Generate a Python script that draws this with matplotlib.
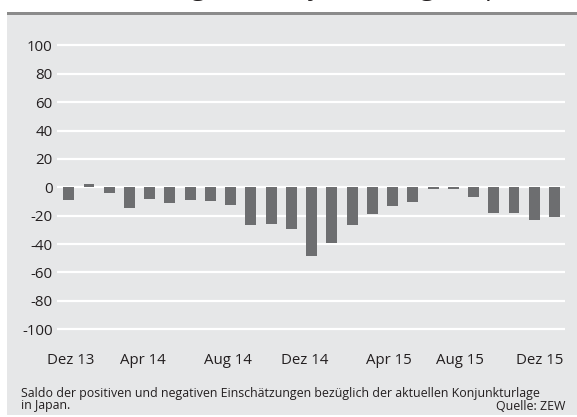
import matplotlib
matplotlib.use("Agg")
import matplotlib.pyplot as plt
from matplotlib.patches import Rectangle

# Monthly balance of assessments, Dec 2013 – Dec 2015
months = ["Dez 13", "Jan 14", "Feb 14", "Mär 14", "Apr 14", "Mai 14", "Jun 14",
          "Jul 14", "Aug 14", "Sep 14", "Okt 14", "Nov 14", "Dez 14", "Jan 15",
          "Feb 15", "Mär 15", "Apr 15", "Mai 15", "Jun 15", "Jul 15", "Aug 15",
          "Sep 15", "Okt 15", "Nov 15", "Dez 15"]
saldo = [-8.6, 2.3, -3.9, -14.8, -8.0, -11.4, -8.6, -10.0, -12.7, -26.4,
         -25.5, -29.3, -48.6, -39.5, -26.3, -19.1, -13.0, -10.2, -1.4, -1.4,
         -6.7, -18.4, -17.9, -22.8, -20.7]
y_ticks = [100, 80, 60, 40, 20, 0, -20, -40, -60, -80, -100]
x_labels = ["Dez 13", "Apr 14", "Aug 14", "Dez 14", "Apr 15", "Aug 15", "Dez 15"]
x_label_pos = [0.1, 3.65, 7.85, 11.65, 15.8, 19.35, 23.25]

title = "Einschätzung der Konjunkturlage, Japan"
note_1 = "Saldo der positiven und negativen Einschätzungen bezüglich der aktuellen Konjunkturlage"
note_2 = "in Japan."
source = "Quelle: ZEW"

W, H = 577, 417
plt.rcParams["font.family"] = ["Open Sans", "DejaVu Sans"]
TEXT = "#231f20"
PANEL = "#e6e7e8"
BAR = "#6d6e70"

fig = plt.figure(figsize=(W / 100, H / 100), dpi=100)
fig.patch.set_facecolor("white")


def fx(px):
    return px / W


def fy(py):
    return 1 - py / H


# grey panel and top rule
fig.add_artist(Rectangle((fx(7), fy(415)), fx(570), (415 - 15) / H,
                         transform=fig.transFigure, facecolor=PANEL,
                         edgecolor="none", zorder=0))
fig.add_artist(Rectangle((fx(7), fy(15)), fx(570), 3.2 / H,
                         transform=fig.transFigure, facecolor="#8b8b8b",
                         edgecolor="none", zorder=0))

# title, mostly above the top edge
fig.text(fx(288), fy(-5.3), title, ha="center", va="baseline",
         fontsize=19, color=TEXT)

ax = fig.add_axes([fx(57), fy(332.1), fx(565 - 57), (332.1 - 42.5) / H])
ax.set_facecolor("none")
x = list(range(len(saldo)))
ax.bar(x, saldo, width=0.54, color=BAR, zorder=3)
ax.set_xlim(-0.58, 24.52)
ax.set_ylim(-102, 102)
ax.set_yticks(y_ticks)
ax.set_yticklabels([str(v) for v in y_ticks])
ax.yaxis.grid(True, color="white", linewidth=1.6, zorder=1)
ax.set_axisbelow(True)
ax.set_xticks(x_label_pos)
ax.set_xticklabels(x_labels)
ax.tick_params(axis="both", length=0, labelsize=10.8, colors=TEXT)
ax.tick_params(axis="y", pad=3.0)
ax.tick_params(axis="x", pad=15)
for s in ax.spines.values():
    s.set_visible(False)

# footnote
fig.text(fx(21), fy(397), note_1, ha="left", va="baseline", fontsize=8.9, color=TEXT)
fig.text(fx(21), fy(409.5), note_2, ha="left", va="baseline", fontsize=8.9, color=TEXT)
fig.text(fx(565), fy(409.5), source, ha="right", va="baseline", fontsize=8.9, color=TEXT)

fig.savefig("out.png", dpi=100, facecolor="white")
